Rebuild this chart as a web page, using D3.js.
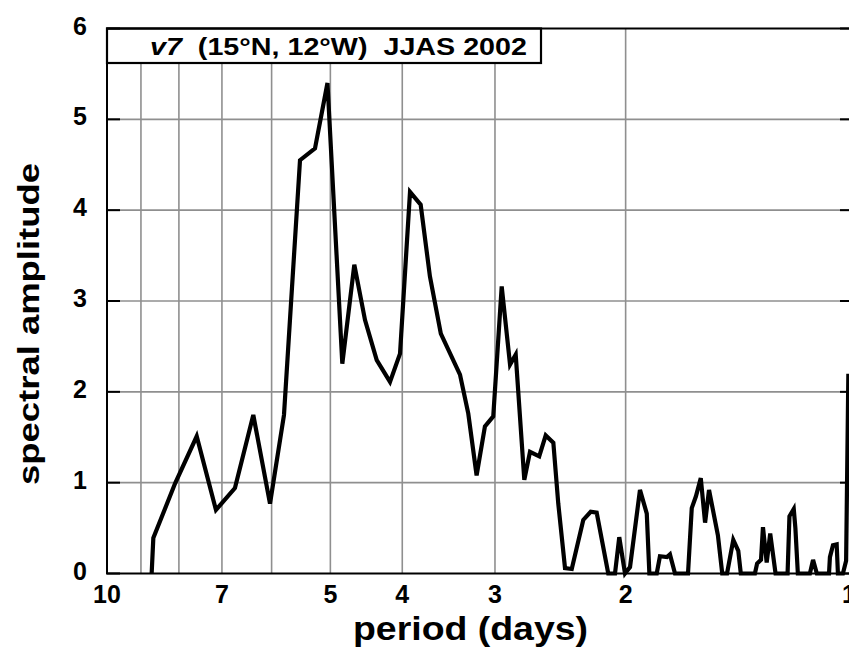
<!DOCTYPE html>
<html lang="en">
<head>
    <meta charset="UTF-8">
    <title>Spectral amplitude v7</title>
    <script src="https://d3js.org/d3.v7.min.js"></script>
    <style>
        body { margin: 0; background: white; font-family: "Liberation Sans", Arial, sans-serif; }
        svg { display: block; }
        .tick-label { font-size: 25px; font-weight: bold; }
        .axis-title { font-weight: bold; }
    </style>
</head>
<body>
    <svg id="chart" width="849" height="650"></svg>

    <script>
    // period (days) and spectral amplitude
    const periods = [
        8.706, 8.661, 8.097, 7.570, 7.131, 6.723, 6.351, 6.030, 5.774, 5.494,
        5.244, 5.045, 4.818, 4.642, 4.490, 4.330, 4.155, 4.028, 3.905, 3.778,
        3.671, 3.549, 3.344, 3.259, 3.176, 3.095, 3.016, 2.938, 2.863, 2.813,
        2.739, 2.691, 2.615, 2.563, 2.503, 2.465, 2.414, 2.364, 2.281, 2.229,
        2.188, 2.111, 2.067, 2.040, 2.004, 1.973, 1.913, 1.873, 1.858, 1.816,
        1.798, 1.759, 1.743, 1.716, 1.648, 1.629, 1.608, 1.584, 1.563, 1.544,
        1.502, 1.482, 1.460, 1.432, 1.410, 1.399, 1.339, 1.330, 1.314, 1.306,
        1.291, 1.277, 1.256, 1.210, 1.203, 1.187, 1.181, 1.172, 1.129, 1.118,
        1.105, 1.064, 1.061, 1.051, 1.039, 1.035, 1.019, 1.009, 1.002
    ];
    const amplitudes = [
        0, 0.39, 0.99, 1.51, 0.70, 0.94, 1.745, 0.77, 1.745, 4.55,
        4.68, 5.40, 2.31, 3.40, 2.79, 2.35, 2.11, 2.42, 4.20, 4.06,
        3.27, 2.64, 2.19, 1.76, 1.08, 1.62, 1.73, 3.16, 2.30, 2.41,
        1.03, 1.34, 1.29, 1.52, 1.44, 0.77, 0.06, 0.05, 0.59, 0.68,
        0.67, 0, 0, 0.40, 0, 0.07, 0.92, 0.66, 0, 0,
        0.19, 0.18, 0.21, 0, 0, 0.72, 0.85, 1.05, 0.56, 0.92,
        0.42, 0, 0, 0.37, 0.25, 0, 0, 0.11, 0.15, 0.51,
        0.12, 0.44, 0, 0, 0.63, 0.71, 0.50, 0, 0, 0.15,
        0, 0, 0.18, 0.31, 0.32, 0, 0, 0.14, 2.20
    ];

    const xTickValues = [10, 7, 5, 4, 3, 2, 1];
    const xGridValues = [9, 8, 7, 6, 5, 4, 3, 2];
    const yTickValues = [0, 1, 2, 3, 4, 5, 6];
    const titleText = "(15°N, 12°W)  JJAS 2002";

    const data = periods.map((p, i) => ({period: p, amp: amplitudes[i]}));

    const plotLeft = 107, plotRight = 849, plotTop = 28.5, plotBottom = 573.5;

    const svg = d3.select('#chart');

    const x = d3.scaleLog().domain([10, 1]).range([plotLeft, plotRight]);
    const y = d3.scaleLinear().domain([0, 6]).range([plotBottom, plotTop]);

    // grid
    svg.append('g')
        .selectAll('line')
        .data(xGridValues)
        .join('line')
        .attr('x1', d => x(d)).attr('x2', d => x(d))
        .attr('y1', plotTop).attr('y2', plotBottom)
        .attr('stroke', '#8f8f8f').attr('stroke-width', 1.6);

    svg.append('g')
        .selectAll('line')
        .data(yTickValues.filter(d => d > 0 && d < 6))
        .join('line')
        .attr('x1', plotLeft).attr('x2', plotRight + 5)
        .attr('y1', d => y(d)).attr('y2', d => y(d))
        .attr('stroke', '#8f8f8f').attr('stroke-width', 1.6);

    // title box
    svg.append('rect')
        .attr('x', plotLeft).attr('y', plotTop)
        .attr('width', 541 - plotLeft).attr('height', 63 - plotTop)
        .attr('fill', 'white')
        .attr('stroke', 'black').attr('stroke-width', 2.2);

    const title = svg.append('text')
        .attr('x', 150).attr('y', 55)
        .attr('font-size', 23).attr('font-weight', 'bold')
        .attr('textLength', 377).attr('lengthAdjust', 'spacingAndGlyphs');
    title.append('tspan').attr('font-style', 'italic').text('v7');
    title.append('tspan').attr('xml:space', 'preserve').text('  ' + titleText);

    // data line
    const line = d3.line()
        .x(d => x(d.period))
        .y(d => y(d.amp));

    svg.append('path')
        .datum(data)
        .attr('d', line)
        .attr('fill', 'none')
        .attr('stroke', 'black')
        .attr('stroke-width', 4.2)
        .attr('stroke-linejoin', 'miter');

    // frame
    svg.append('path')
        .attr('d', `M${plotRight + 4},${plotTop}H${plotLeft}V${plotBottom}H${plotRight + 4}`)
        .attr('fill', 'none')
        .attr('stroke', 'black').attr('stroke-width', 2);

    // inner ticks on both sides
    svg.append('g')
        .selectAll('line')
        .data(yTickValues)
        .join('line')
        .attr('x1', plotLeft).attr('x2', plotLeft + 13)
        .attr('y1', d => y(d)).attr('y2', d => y(d))
        .attr('stroke', 'black').attr('stroke-width', 2);

    svg.append('g')
        .selectAll('line')
        .data(yTickValues)
        .join('line')
        .attr('x1', plotRight - 9).attr('x2', plotRight)
        .attr('y1', d => y(d)).attr('y2', d => y(d))
        .attr('stroke', 'black').attr('stroke-width', 2);

    // tick labels
    svg.append('g')
        .selectAll('text')
        .data(yTickValues)
        .join('text')
        .attr('class', 'tick-label')
        .attr('x', 87)
        .attr('y', d => y(d) + 6)
        .attr('text-anchor', 'end')
        .text(d => d);

    svg.append('g')
        .selectAll('text')
        .data(xTickValues)
        .join('text')
        .attr('class', 'tick-label')
        .attr('x', d => x(d))
        .attr('y', 603)
        .attr('text-anchor', 'middle')
        .text(d => d);

    // axis titles
    svg.append('text')
        .attr('class', 'axis-title')
        .attr('x', 353).attr('y', 640)
        .attr('font-size', 34)
        .attr('textLength', 235).attr('lengthAdjust', 'spacingAndGlyphs')
        .text('period (days)');

    svg.append('text')
        .attr('class', 'axis-title')
        .attr('transform', 'translate(39,485) rotate(-90)')
        .attr('font-size', 30)
        .attr('textLength', 322).attr('lengthAdjust', 'spacingAndGlyphs')
        .text('spectral amplitude');
    </script>
</body>
</html>
